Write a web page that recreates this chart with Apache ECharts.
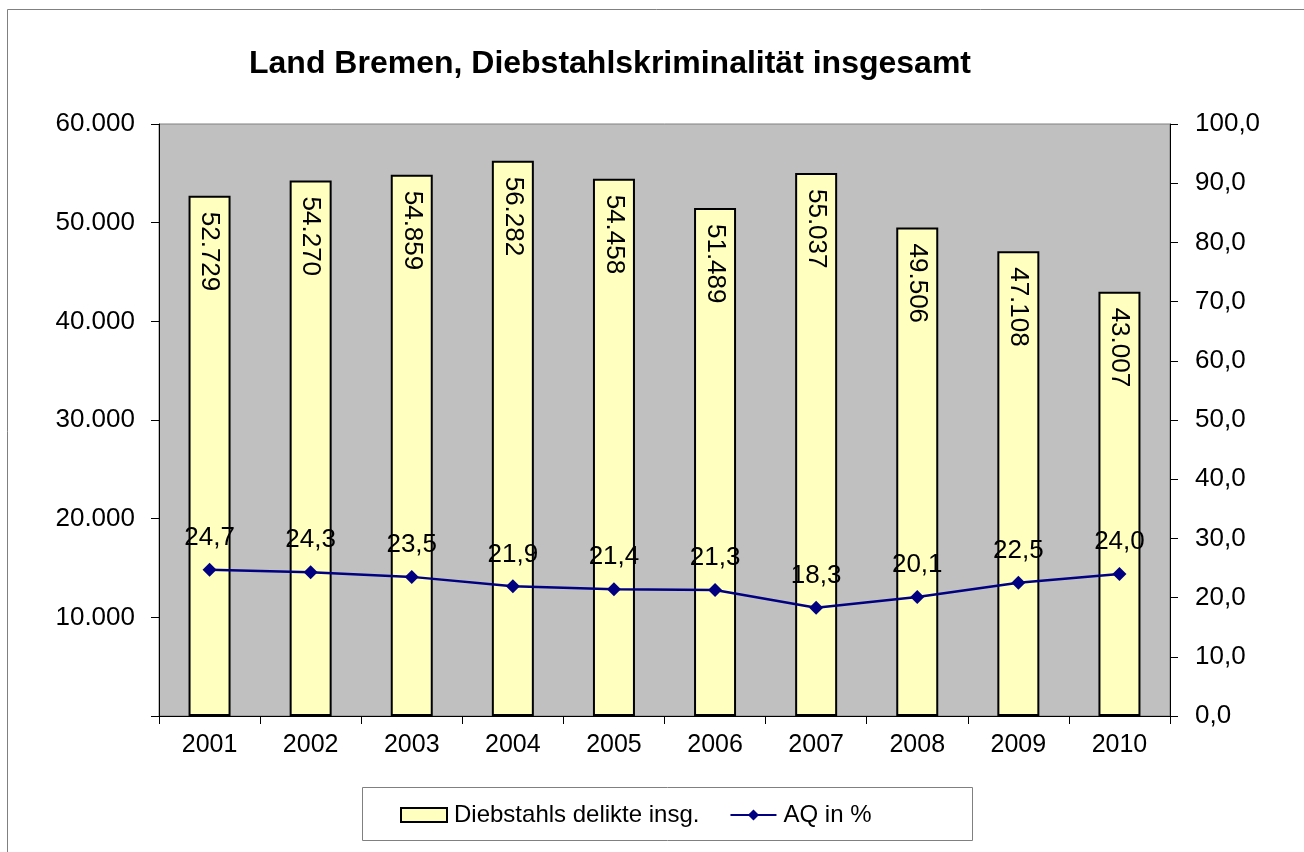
<!DOCTYPE html>
<html><head><meta charset="utf-8">
<script src="https://cdn.jsdelivr.net/npm/echarts@6/dist/echarts.min.js"></script>
<style>html,body{margin:0;padding:0;background:#fff}#c{width:1304px;height:852px}</style>
</head><body><div id="c"></div>
<script>
const years = ['2001','2002','2003','2004','2005','2006','2007','2008','2009','2010'];
const delikte = [52729, 54270, 54859, 56282, 54458, 51489, 55037, 49506, 47108, 43007];
const aq = [24.7, 24.3, 23.5, 21.9, 21.4, 21.3, 18.3, 20.1, 22.5, 24.0];
const leftTicks = {min:0, max:60000, interval:10000};
const rightTicks = {min:0, max:100, interval:10};

const font = 'Liberation Sans, Arial, sans-serif';
const fmtThousands = v => String(Math.round(v)).replace(/\B(?=(\d{3})+(?!\d))/g, '.');
const fmtDec = v => v.toFixed(1).replace('.', ',');

const chart = echarts.init(document.getElementById('c'));
chart.setOption({
  animation: false,
  backgroundColor: '#fff',
  graphic: [{
    type: 'rect', shape: {x: 7.5, y: 9.5, width: 1300, height: 850},
    style: {fill: 'none', stroke: '#808080', lineWidth: 1}, silent: true, z: -10
  }, {
    type: 'rect', shape: {x: 362.5, y: 787.5, width: 610, height: 53},
    style: {fill: 'none', stroke: '#808080', lineWidth: 1}, silent: true
  }],
  title: {
    text: 'Land Bremen, Diebstahlskriminalität insgesamt',
    left: 605, top: 43, textAlign: 'center',
    textStyle: {fontFamily: font, fontSize: 32, fontWeight: 'bold', color: '#000'}
  },
  grid: {left: 159, right: 134, top: 124, bottom: 136, show: true, backgroundColor: '#c0c0c0', borderColor: '#808080', borderWidth: 1},
  legend: {
    left: 400, top: 803, padding: 0, itemGap: 30,
    textStyle: {fontFamily: font, fontSize: 24, color: '#000', padding: [0, 0, 0, 2]},
    data: [
      {name: 'Diebstahls delikte insg.', icon: 'rect', itemStyle: {color: '#ffffc0', borderColor: '#000', borderWidth: 2}},
      {name: 'AQ in %'}
    ],
    itemWidth: 46, itemHeight: 14
  },
  xAxis: {
    type: 'category', data: years,
    axisLine: {lineStyle: {color: '#000', width: 1}},
    axisTick: {show: true, length: 8, lineStyle: {color: '#000'}},
    axisLabel: {fontFamily: font, fontSize: 25, color: '#000', margin: 17}
  },
  yAxis: [{
    type: 'value', min: leftTicks.min, max: leftTicks.max, interval: leftTicks.interval,
    splitLine: {show: false},
    axisLine: {show: true, lineStyle: {color: '#000'}},
    axisTick: {show: true, length: 8, inside: false, lineStyle: {color: '#000'}},
    axisLabel: {fontFamily: font, fontSize: 26, color: '#000', margin: 24, formatter: v => v === 0 ? '' : fmtThousands(v)}
  }, {
    type: 'value', min: rightTicks.min, max: rightTicks.max, interval: rightTicks.interval,
    position: 'right',
    splitLine: {show: false},
    axisLine: {show: true, lineStyle: {color: '#000'}},
    axisTick: {show: true, length: 8, lineStyle: {color: '#000'}},
    axisLabel: {fontFamily: font, fontSize: 26, color: '#000', margin: 25, formatter: fmtDec}
  }],
  series: [{
    name: 'Diebstahls delikte insg.', type: 'bar', data: delikte, barWidth: 42, yAxisIndex: 0,
    itemStyle: {color: '#ffffc0', borderColor: '#000', borderWidth: 2},
    label: {
      show: true, position: 'insideTop', rotate: -90, align: 'left', verticalAlign: 'middle', distance: 16,
      fontFamily: font, fontSize: 26, color: '#000', formatter: p => fmtThousands(p.value)
    }
  }, {
    name: 'AQ in %', type: 'line', data: aq, yAxisIndex: 1,
    symbol: 'diamond', symbolSize: 14,
    lineStyle: {color: '#000080', width: 2.5}, itemStyle: {color: '#000080'},
    label: {show: true, position: 'top', distance: 12, fontFamily: font, fontSize: 26, color: '#000', formatter: p => fmtDec(p.value)}
  }]
});
</script></body></html>
